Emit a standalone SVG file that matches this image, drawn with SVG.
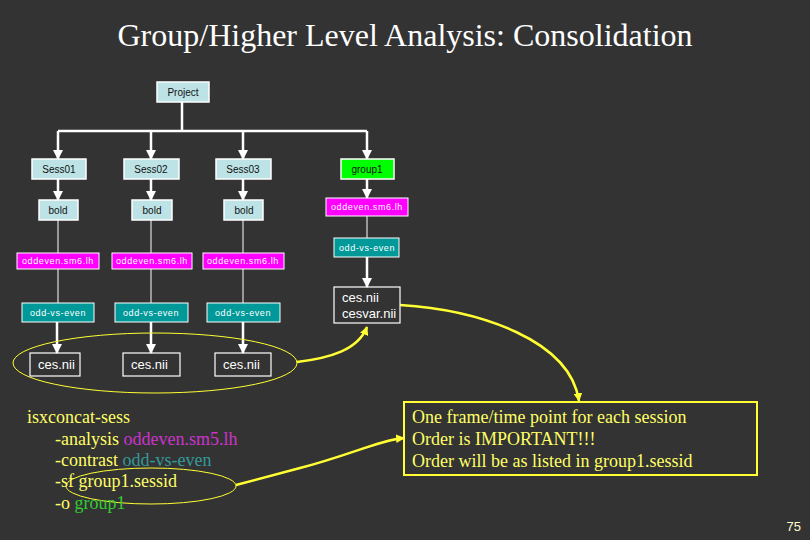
<svg xmlns="http://www.w3.org/2000/svg" width="810" height="540" viewBox="0 0 810 540">
<defs>
<style>
.bg{fill:#333333}
.title{font-family:"Liberation Serif",serif;font-size:32px;fill:#ffffff}
.lb{fill:#bde3e6;stroke:#ffffff;stroke-width:1.5}
.gr{fill:#00ff00;stroke:#ffffff;stroke-width:1.5}
.mg{fill:#ff00ff;stroke:#ffffff;stroke-width:1}
.tl{fill:#009999;stroke:#ffffff;stroke-width:1}
.fb{fill:none;stroke:#ffffff;stroke-width:1.2}
.t{font-family:"Liberation Sans",Arial,sans-serif;font-size:10px;text-anchor:middle;fill:#111111}
.tw{font-family:"Liberation Sans",Arial,sans-serif;font-size:9px;text-anchor:middle;fill:#ffffff;letter-spacing:0.6px}
.tf{font-family:"Liberation Sans",Arial,sans-serif;font-size:13px;fill:#ffffff}
.thick{stroke:#ffffff;stroke-width:2.5;fill:none}
.thin{stroke:#ffffff;stroke-width:1;fill:none}
.ya{stroke:#ffff33;stroke-width:2.5;fill:none}
.yl{stroke:#ffff33;stroke-width:1;fill:none}
.code{font-family:"Liberation Serif",serif;font-size:18px;fill:#ffff66}
.note{font-family:"Liberation Serif",serif;font-size:18px;fill:#ffff66}
</style>
<marker id="wa" viewBox="0 0 10 10" refX="9" refY="5" markerWidth="4" markerHeight="4" orient="auto" markerUnits="strokeWidth"><path d="M0,0 L10,5 L0,10 z" fill="#ffffff"/></marker>
<marker id="ya" viewBox="0 0 10 10" refX="9" refY="5" markerWidth="3.5" markerHeight="3.5" orient="auto" markerUnits="strokeWidth"><path d="M0,0 L10,5 L0,10 z" fill="#ffff33"/></marker>
</defs>
<rect class="bg" x="0" y="0" width="810" height="540"/>
<text class="title" x="405" y="46" text-anchor="middle">Group/Higher Level Analysis: Consolidation</text>

<g id="connectors">
<path class="thick" d="M182,102 V131 M58,131 H367"/>
<path class="thick" d="M58,131 V159" marker-end="url(#wa)"/>
<path class="thick" d="M151,131 V159" marker-end="url(#wa)"/>
<path class="thick" d="M243,131 V159" marker-end="url(#wa)"/>
<path class="thick" d="M367,131 V159" marker-end="url(#wa)"/>
<path class="thick" d="M58,179 V200" marker-end="url(#wa)"/>
<path class="thick" d="M151,179 V200" marker-end="url(#wa)"/>
<path class="thick" d="M243,179 V200" marker-end="url(#wa)"/>
<path class="thick" d="M367,179 V198" marker-end="url(#wa)"/>
<path class="thin" d="M58,220 V253 M151,220 V253 M243,220 V253"/>
<path class="thin" d="M58,269 V303 M151,269 V303 M243,269 V303 M367,216 V238"/>
<path class="thick" d="M57,322 V353" marker-end="url(#wa)"/>
<path class="thick" d="M151,322 V353" marker-end="url(#wa)"/>
<path class="thick" d="M243,322 V353" marker-end="url(#wa)"/>
<path class="thick" d="M367,257 V287" marker-end="url(#wa)"/>
<ellipse class="yl" cx="155" cy="363" rx="142" ry="30"/>
<ellipse class="yl" cx="151" cy="486" rx="85" ry="18"/>
<path class="ya" d="M297,362 C330,358 358,350 367,327" marker-end="url(#ya)"/>
<path class="ya" d="M400,305 C480,310 570,340 579,401" marker-end="url(#ya)"/>
<path class="ya" d="M236,485 L300,468 C350,455 380,440 404,438" marker-end="url(#ya)"/>
</g>

<g id="project"><rect class="lb" x="157" y="82" width="52" height="20"/><text class="t" x="183" y="96">Project</text></g>
<g id="sess01"><rect class="lb" x="32" y="159" width="54" height="20"/><text class="t" x="59" y="173">Sess01</text></g>
<g id="sess02"><rect class="lb" x="124" y="159" width="55" height="20"/><text class="t" x="151" y="173">Sess02</text></g>
<g id="sess03"><rect class="lb" x="216" y="159" width="55" height="20"/><text class="t" x="243" y="173">Sess03</text></g>
<g id="group1"><rect class="gr" x="341" y="159" width="53" height="20"/><text class="t" x="367" y="173">group1</text></g>
<g id="bold1"><rect class="lb" x="39" y="200" width="39" height="20"/><text class="t" x="58" y="214">bold</text></g>
<g id="bold2"><rect class="lb" x="132" y="200" width="40" height="20"/><text class="t" x="152" y="214">bold</text></g>
<g id="bold3"><rect class="lb" x="224" y="200" width="39" height="20"/><text class="t" x="244" y="214">bold</text></g>
<g id="ana-g"><rect class="mg" x="326" y="198" width="82" height="18"/><text class="tw" x="367" y="210">oddeven.sm6.lh</text></g>
<g id="con-g"><rect class="tl" x="334" y="238" width="65" height="19"/><text class="tw" x="367" y="251">odd-vs-even</text></g>
<g id="ces-g"><rect class="fb" x="334" y="287" width="66" height="36"/><text class="tf" x="342" y="302">ces.nii</text><text class="tf" x="342" y="318">cesvar.nii</text></g>
<g id="ana1"><rect class="mg" x="17" y="253" width="82" height="16"/><text class="tw" x="58" y="264">oddeven.sm6.lh</text></g>
<g id="ana2"><rect class="mg" x="112" y="253" width="80" height="16"/><text class="tw" x="152" y="264">oddeven.sm6.lh</text></g>
<g id="ana3"><rect class="mg" x="203" y="253" width="81" height="16"/><text class="tw" x="243" y="264">oddeven.sm6.lh</text></g>
<g id="con1"><rect class="tl" x="22" y="303" width="72" height="19"/><text class="tw" x="58" y="316">odd-vs-even</text></g>
<g id="con2"><rect class="tl" x="115" y="303" width="73" height="19"/><text class="tw" x="151" y="316">odd-vs-even</text></g>
<g id="con3"><rect class="tl" x="207" y="303" width="73" height="19"/><text class="tw" x="243" y="316">odd-vs-even</text></g>
<g id="ces1"><rect class="fb" x="30" y="353" width="50" height="23"/><text class="tf" x="38" y="369">ces.nii</text></g>
<g id="ces2"><rect class="fb" x="123" y="353" width="57" height="23"/><text class="tf" x="131" y="369">ces.nii</text></g>
<g id="ces3"><rect class="fb" x="215" y="353" width="56" height="23"/><text class="tf" x="223" y="369">ces.nii</text></g>

<g id="command">
<text class="code" x="27" y="423">isxconcat-sess</text>
<text class="code" x="55" y="445">-analysis <tspan fill="#cc33cc">oddeven.sm5.lh</tspan></text>
<text class="code" x="55" y="466">-contrast <tspan fill="#339999">odd-vs-even</tspan></text>
<text class="code" x="55" y="487">-sf group1.sessid</text>
<text class="code" x="55" y="509">-o <tspan fill="#33cc33">group1</tspan></text>
</g>

<g id="note">
<rect x="404" y="402" width="353" height="73" fill="none" stroke="#ffff33" stroke-width="2"/>
<text class="note" x="412" y="423">One frame/time point for each session</text>
<text class="note" x="412" y="445">Order is IMPORTANT!!!</text>
<text class="note" x="412" y="467">Order will be as listed in group1.sessid</text>
</g>
<text x="801" y="531" text-anchor="end" font-family="Liberation Sans, Arial, sans-serif" font-size="13" fill="#ffffcc">75</text>
</svg>
